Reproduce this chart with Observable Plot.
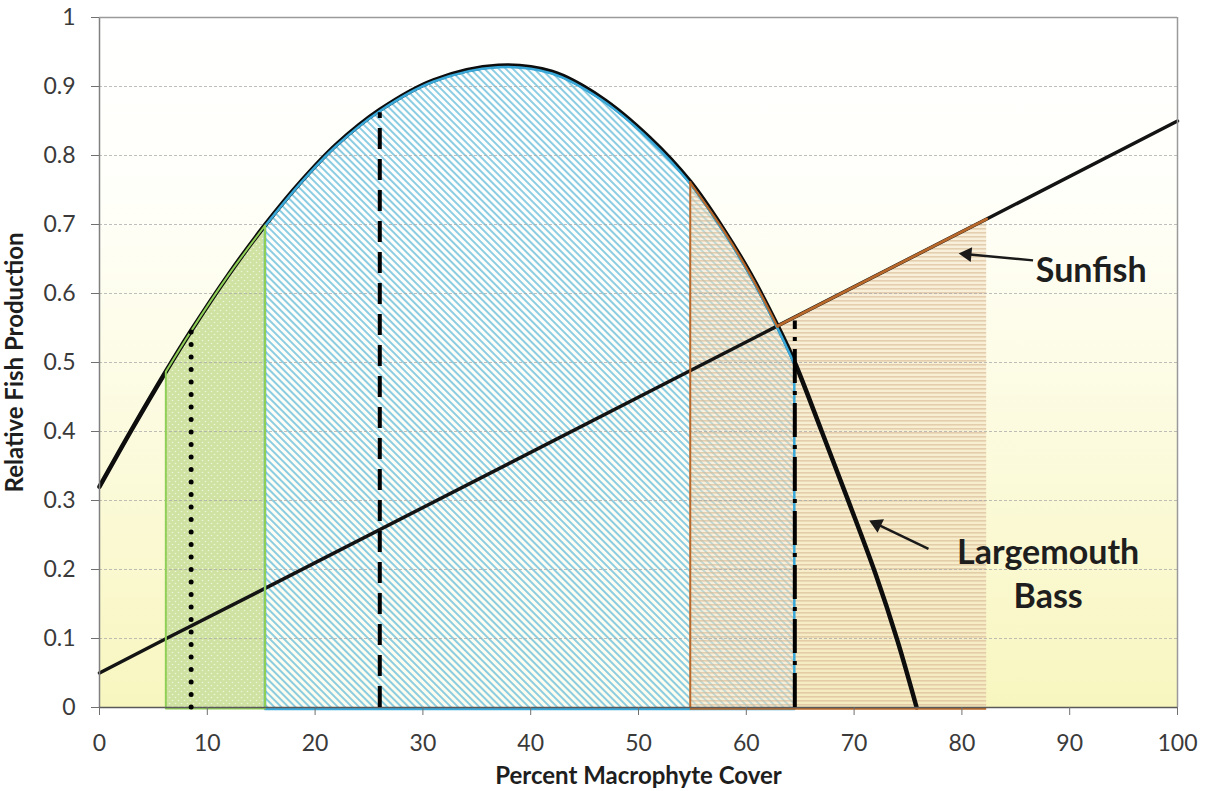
<!DOCTYPE html>
<html><head><meta charset="utf-8">
<script src="https://cdn.jsdelivr.net/npm/d3@7"></script>
<script src="https://cdn.jsdelivr.net/npm/@observablehq/plot@0.6"></script>
<style>body{margin:0;background:#fff;}</style>
</head><body><div id="chart"></div>
<script>
// Largemouth bass production curve
const bassX = [0, 3, 6.2, 8.5, 12, 15.4, 18.8, 22, 26, 31, 37, 42, 46.5, 51, 54.8, 58, 60.4, 62.9, 64.5, 67, 69.5, 72, 74, 75.8];
const bassY = [0.32, 0.403, 0.488, 0.546, 0.628, 0.70, 0.764, 0.816, 0.866, 0.909, 0.93, 0.921, 0.884, 0.826, 0.762, 0.690, 0.628, 0.553, 0.50, 0.40, 0.298, 0.193, 0.098, 0];
// Sunfish production line
const sunX = [0, 6.2, 15.4, 62.9, 82.3, 100];
const sunY = [0.05, 0.1, 0.173, 0.553, 0.708, 0.85];
const crossoverX = 62.9;
// shaded ranges
const regionName = ["green", "blue", "brown"];
const regionStart = [6.2, 15.4, 54.8];
const regionEnd = [15.4, 64.5, 82.3];
// vertical reference lines
const refX = [8.5, 26, 64.5];
const refTop = [0.545, 0.862, 0.56];
// ticks
const xTicks = [0, 10, 20, 30, 40, 50, 60, 70, 80, 90, 100];
const yTicks = [0, 0.1, 0.2, 0.3, 0.4, 0.5, 0.6, 0.7, 0.8, 0.9, 1];
const gridTicks = [0.1, 0.2, 0.3, 0.4, 0.5, 0.6, 0.7, 0.8, 0.9];
// annotations
const labelText = ["Sunfish", "Largemouth", "Bass"];
const labelX = [92.0, 88.0, 88.0];
const labelY = [0.632, 0.2235, 0.1605];
const arrowTailX = [86.6, 76.9];
const arrowTailY = [0.648, 0.230];
const arrowTipX = [79.7, 71.4];
const arrowTipY = [0.658, 0.271];

const W = 1206, H = 791, mL = 99, mR = 29, mT = 17, mB = 84;
const kx = (W - mL - mR) / 100, ky = (H - mT - mB) / 1;
const eps = 1e-9;

const bass = bassX.map((x, i) => ({x, y: bassY[i]}));
const sun = sunX.map((x, i) => ({x, y: sunY[i]}));
const reg = Object.fromEntries(regionName.map((n, i) => [n, {start: regionStart[i], end: regionEnd[i]}]));
const between = (arr, a, b) => arr.filter(d => d.x >= a - eps && d.x <= b + eps);
const greenTop = between(bass, reg.green.start, reg.green.end);
const blueTop = between(bass, reg.blue.start, reg.blue.end);
const brownBass = between(bass, reg.brown.start, crossoverX);
const brownSun = between(sun, crossoverX, reg.brown.end);
const brownLeft = [{x: reg.brown.start, top: brownBass[0].y}];
const refs = refX.map((x, i) => ({x, top: refTop[i]}));
const labels = labelText.map((t, i) => ({t, x: labelX[i], y: labelY[i]}));
const headBack = 8.55;
const arrows = arrowTailX.map((x1, i) => {
  const y1 = arrowTailY[i], x2 = arrowTipX[i], y2 = arrowTipY[i];
  const dxp = (x2 - x1) * kx, dyp = -(y2 - y1) * ky, len = Math.hypot(dxp, dyp);
  const ux = dxp / len, uy = dyp / len;
  return {x1, y1, hx: x2 - ux * headBack / kx, hy: y2 + uy * headBack / ky,
          angle: Math.atan2(ux, -uy) * 180 / Math.PI};
});

const C = "catmull-rom";
const brown = "#b8682a";

const chart = Plot.plot({
  width: W, height: H,
  marginLeft: mL, marginRight: mR, marginTop: mT, marginBottom: mB,
  style: {fontFamily: "Lato, sans-serif", background: "transparent"},
  x: {domain: [0, 100]},
  y: {domain: [0, 1]},
  marks: [
    Plot.frame({fill: "url(#bgGrad)", stroke: "none"}),
    // fills
    Plot.areaY(blueTop, {x: "x", y: "y", curve: C, fill: "url(#diagBlue)"}),
    Plot.areaY(greenTop, {x: "x", y: "y", curve: C, fill: "url(#dotsGreen)"}),
    Plot.areaY(brownBass, {x: "x", y: "y", curve: C, fill: "url(#horizBrown)"}),
    Plot.areaY(brownSun, {x: "x", y: "y", fill: "url(#horizBrown)"}),
    Plot.ruleY(gridTicks, {stroke: "#a8a8a8", strokeOpacity: 0.75, strokeDasharray: "3,2"}),
    // curves
    Plot.line(sun, {x: "x", y: "y", stroke: "#141414", strokeWidth: 3.5}),
    Plot.line(bass, {x: "x", y: "y", curve: C, stroke: "#0d0d0d", strokeWidth: 4.5}),
    // outlines
    Plot.areaY(blueTop, {x: "x", y: "y", curve: C, fill: "none", stroke: "#3aa9d9", strokeWidth: 2.5, dy: 2}),
    Plot.line(brownBass, {x: "x", y: "y", curve: C, stroke: brown, strokeWidth: 2.2, dy: 1}),
    Plot.line(brownSun, {x: "x", y: "y", stroke: brown, strokeWidth: 2.8}),
    Plot.ruleX(brownLeft, {x: "x", y1: 0, y2: "top", stroke: brown, strokeWidth: 2}),
    Plot.ruleY([reg.brown], {y: 0, x1: "start", x2: "end", stroke: brown, strokeWidth: 2.5, dy: 1}),
    Plot.areaY(greenTop, {x: "x", y: "y", curve: C, fill: "none", stroke: "#8fcf57", strokeWidth: 2, dy: 1.5}),
    // frame / axis lines
    Plot.ruleX([0], {stroke: "#808080", strokeWidth: 1.5}),
    Plot.ruleX([100], {stroke: "#9a9a9a", strokeWidth: 1.5}),
    Plot.ruleY([1], {stroke: "#9a9a9a", strokeWidth: 1.5}),
    Plot.ruleY([0], {stroke: "#5a5a5a", strokeWidth: 1.5}),
    // reference lines
    Plot.ruleX(refs.slice(0, 1), {x: "x", y1: 0, y2: "top", stroke: "#000", strokeWidth: 5, strokeDasharray: "0,12.5", strokeLinecap: "round"}),
    Plot.ruleX(refs.slice(1, 2), {x: "x", y1: 0, y2: "top", stroke: "#000", strokeWidth: 4, strokeDasharray: "21,10"}),
    Plot.ruleX(refs.slice(2, 3), {x: "x", y1: 0, y2: "top", stroke: "#000", strokeWidth: 4, strokeDasharray: "34,8,4,8"}),
    // axes
    Plot.axisX({ticks: xTicks, tickSize: 8, tickPadding: 19, fontSize: 23, stroke: "#707070", fill: "#3a3a3a", label: null,
      tickFormat: d => String(d)}),
    Plot.axisY({ticks: yTicks, tickSize: 8, tickPadding: 16, fontSize: 23, stroke: "#707070", fill: "#3a3a3a", label: null,
      tickFormat: d => (d === 0 || d === 1) ? String(d) : d.toFixed(1)}),
    // annotations
    Plot.link(arrows, {x1: "x1", y1: "y1", x2: "hx", y2: "hy", stroke: "#1a1a1a", strokeWidth: 2.5}),
    Plot.dot(arrows, {x: "hx", y: "hy", symbol: "triangle", r: 5.5, fill: "#1a1a1a", stroke: "none", rotate: "angle"}),
    Plot.text(labels, {x: "x", y: "y", text: "t", fontSize: 34, fontWeight: "bold", fill: "#1e1e1e"}),
    Plot.text(["Percent Macrophyte Cover"], {text: d => d, frameAnchor: "bottom", lineAnchor: "middle", textAnchor: "middle", dy: 69, fontSize: 24, fontWeight: "bold", fill: "#1e1e1e"}),
    Plot.text(["Relative Fish Production"], {text: d => d, frameAnchor: "left", textAnchor: "middle", lineAnchor: "middle", dx: -84, rotate: -90, fontSize: 24, fontWeight: "bold", fill: "#1e1e1e"})
  ]
});

d3.select(chart).insert("defs", ":first-child").html(`
<linearGradient id="bgGrad" x1="0" y1="0" x2="0" y2="1">
  <stop offset="0" stop-color="#ffffff"/>
  <stop offset="0.25" stop-color="#fffffa"/>
  <stop offset="1" stop-color="#f8f6bf"/>
</linearGradient>
<pattern id="dotsGreen" patternUnits="userSpaceOnUse" width="6" height="6">
  <rect width="6" height="6" fill="#cfe2a2"/>
  <circle cx="1.5" cy="1.5" r="0.8" fill="#eef5d8"/>
  <circle cx="4.5" cy="4.5" r="0.8" fill="#eef5d8"/>
</pattern>
<pattern id="diagBlue" patternUnits="userSpaceOnUse" width="5" height="5" patternTransform="rotate(45)">
  <rect width="5" height="5" fill="#ffffff" fill-opacity="0.75"/>
  <rect width="5" height="2" fill="#6fc0dc" fill-opacity="0.8"/>
</pattern>
<pattern id="horizBrown" patternUnits="userSpaceOnUse" width="6" height="4">
  <rect width="6" height="4" fill="#f3e2c4" fill-opacity="0.5"/>
  <rect width="6" height="1.6" fill="#d6b892" fill-opacity="0.6"/>
</pattern>`);

document.getElementById("chart").appendChild(chart);
</script>
</body></html>
